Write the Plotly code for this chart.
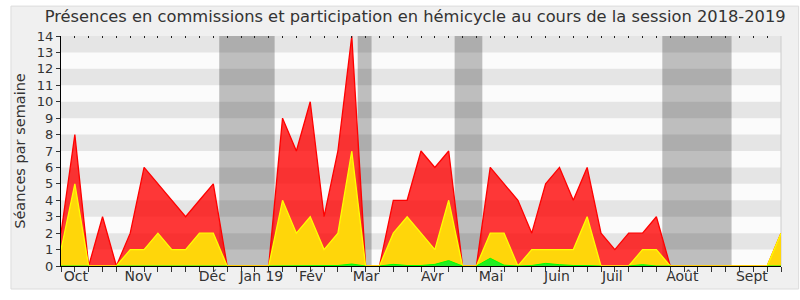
import plotly.graph_objects as go

# ---- data (one value per week of the 2018-2019 session) ----
hemicycle = [2, 8, 0, 3, 0, 2, 6, 5, 4, 3, 4, 5, 0, 0, 0, 0, 9, 7, 10, 3,
             7, 14, 0, 0, 4, 4, 7, 6, 7, 0, 0, 6, 5, 4, 2, 5, 6, 4, 6, 2,
             1, 2, 2, 3, 0, 0, 0, 0, 0, 0, 0, 0, 2]
commissions = [1, 5, 0, 0, 0, 1, 1, 2, 1, 1, 2, 2, 0, 0, 0, 0, 4, 2, 3, 1,
               2, 7, 0, 0, 2, 3, 2, 1, 4, 0, 0, 2, 2, 0, 1, 1, 1, 1, 3, 0,
               0, 0, 1, 1, 0, 0, 0, 0, 0, 0, 0, 0, 2]
autres = [0, 0, 0, 0, 0, 0, 0, 0, 0, 0, 0, 0, 0, 0, 0, 0, 0, 0, 0, 0,
          0.03, 0.12, 0, 0, 0.1, 0.03, 0.03, 0.1, 0.33, 0, 0, 0.47, 0.05, 0, 0.03, 0.16, 0.08, 0.03, 0.03, 0,
          0, 0, 0.08, 0, 0, 0, 0, 0, 0, 0, 0, 0, 0]
month_labels = ["Oct", "Nov", "Déc", "Jan 19", "Fév", "Mar", "Avr", "Mai", "Juin", "Juil", "Août", "Sept"]
month_weeks = [1.08, 5.58, 10.93, 14.47, 18.06, 22.03, 26.82, 31.06, 35.82, 39.82, 44.87, 49.9]
vacations = [(11, 15), (21, 22), (28, 30), (43, 48)]
y_max = 14

weeks = list(range(len(hemicycle)))
n = len(weeks)

# green segments only where the commission layer has a base
gx, gy = [], []
for i in weeks:
    if i > 0 and commissions[i - 1] == 0 and commissions[i] == 0:
        gx.append(None); gy.append(None)
    gx.append(i); gy.append(autres[i])

fig = go.Figure()
fig.add_trace(go.Scatter(x=weeks, y=hemicycle, mode="lines", fill="tozeroy",
                         line=dict(color="#ff0000", width=1.3),
                         fillcolor="rgba(255,0,0,0.78)", hoverinfo="skip", showlegend=False))
fig.add_trace(go.Scatter(x=weeks, y=commissions, mode="lines", fill="tozeroy",
                         line=dict(color="#ffff00", width=1.3),
                         fillcolor="#ffd60a", hoverinfo="skip", showlegend=False))
fig.add_trace(go.Scatter(x=gx, y=gy, mode="lines", fill="tozeroy", connectgaps=False,
                         line=dict(color="#00ff00", width=1),
                         fillcolor="#22ee22", hoverinfo="skip", showlegend=False))

shapes = []
# outer panel
shapes.append(dict(type="path", xref="paper", yref="paper", layer="below",
                   path="M -0.0695,-0.1 L 1.0245,-0.1 L 1.0245,1.13 L -0.0695,1.13 Z",
                   fillcolor="#f0f0f0", line=dict(color="#dcdcdc", width=1)))
# plot background
shapes.append(dict(type="rect", xref="x domain", yref="y domain", x0=0, x1=1, y0=0, y1=1,
                   layer="below", fillcolor="#fbfbfb", line=dict(width=0)))
off = 3 / 7
for a, b in vacations:
    shapes.append(dict(type="rect", xref="x", yref="y domain", x0=a + off, x1=b + off, y0=0, y1=1,
                       layer="below", fillcolor="#bebebe", line=dict(width=0)))
for k in range(1, y_max, 2):
    shapes.append(dict(type="rect", xref="x domain", yref="y", x0=0, x1=1, y0=k, y1=k + 1,
                       layer="below", fillcolor="rgba(0,0,0,0.085)", line=dict(width=0)))
# right frame line
shapes.append(dict(type="line", xref="x domain", yref="y domain", x0=1, x1=1, y0=0, y1=1,
                   layer="below", line=dict(color="#cccccc", width=1)))

font = "DejaVu Sans"
fig.update_layout(
    width=800, height=300,
    margin=dict(l=61, r=19, t=36, b=34),
    paper_bgcolor="white", plot_bgcolor="rgba(0,0,0,0)",
    shapes=shapes,
    font=dict(family=font, color="#333333", size=13),
    title=dict(text="Présences en commissions et participation en hémicycle au cours de la session 2018-2019",
               x=0.519, xanchor="center", y=0.945, yanchor="middle",
               font=dict(family=font, size=16.3, color="#333333")),
    xaxis=dict(range=[0, n - 1], tickvals=weeks, ticktext=[""] * n, ticks="outside",
               ticklen=5, tickcolor="#333333", showgrid=False, zeroline=False,
               showline=True, linecolor="#000000", linewidth=1, layer="below traces"),
    xaxis2=dict(range=[0, n - 1], overlaying="x", side="bottom", tickvals=month_weeks,
                ticktext=month_labels, ticks="", showgrid=False, zeroline=False,
                showline=False, tickfont=dict(size=14, color="#333333")),
    xaxis3=dict(range=[0, n - 1], overlaying="x", side="top", tickvals=weeks,
                ticktext=[""] * n, ticks="inside", ticklen=2, tickcolor="#222222",
                showgrid=False, zeroline=False, showline=False),
    yaxis=dict(range=[0, y_max], tickvals=list(range(y_max + 1)), ticks="outside", ticklen=4,
               tickcolor="#333333", showgrid=False, zeroline=False, showline=True,
               linecolor="#000000", linewidth=1, layer="below traces",
               tickfont=dict(size=13, color="#333333"),
               title=dict(text="Séances par semaine", standoff=7,
                          font=dict(size=14.5, color="#333333"))),
)
# dummy traces to show the extra axes
fig.add_trace(go.Scatter(x=[0], y=[0], xaxis="x2", mode="markers", marker=dict(opacity=0),
                         hoverinfo="skip", showlegend=False))
fig.add_trace(go.Scatter(x=[0], y=[0], xaxis="x3", mode="markers", marker=dict(opacity=0),
                         hoverinfo="skip", showlegend=False))
fig.write_html("out.html")
